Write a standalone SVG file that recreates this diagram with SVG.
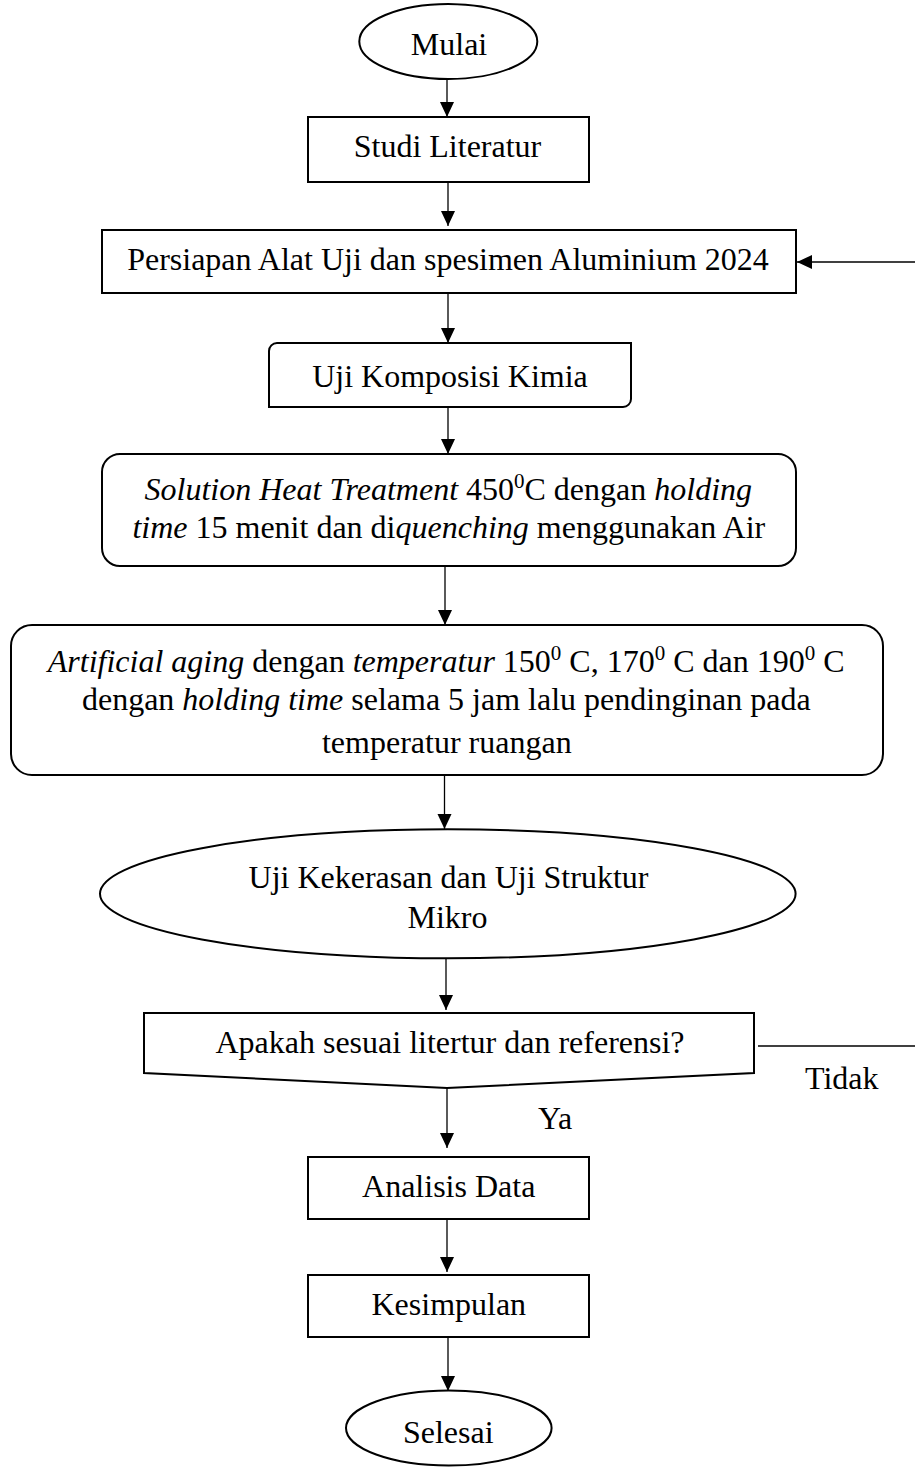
<svg xmlns="http://www.w3.org/2000/svg" width="915" height="1470" viewBox="0 0 915 1470">
<style>
  .shape { fill: #ffffff; stroke: #000000; stroke-width: 2; }
  .conn { fill: none; stroke: #000000; stroke-width: 1.3; }
  text { font-family: "Liberation Serif", "Times New Roman", serif; font-size: 32px; fill: #000000; }
  .c { text-anchor: middle; }
  .i { font-style: italic; }
  .sup { font-size: 21px; }
</style>
<defs>
  <marker id="arrow" markerUnits="userSpaceOnUse" markerWidth="16" markerHeight="15" refX="15" refY="7" orient="auto">
    <path d="M0,0 L15,7 L0,14 Z" fill="#000000"/>
  </marker>
</defs>
<rect width="915" height="1470" fill="#ffffff"/>

<g id="connectors">
  <line class="conn" x1="447" y1="79" x2="447" y2="117" marker-end="url(#arrow)"/>
  <line class="conn" x1="448" y1="182" x2="448" y2="226" marker-end="url(#arrow)"/>
  <line class="conn" x1="448" y1="293" x2="448" y2="343" marker-end="url(#arrow)"/>
  <line class="conn" x1="448" y1="407" x2="448" y2="454" marker-end="url(#arrow)"/>
  <line class="conn" x1="445" y1="566" x2="445" y2="625" marker-end="url(#arrow)"/>
  <line class="conn" x1="444.5" y1="758" x2="444.5" y2="829" marker-end="url(#arrow)"/>
  <line class="conn" x1="446" y1="958" x2="446" y2="1010" marker-end="url(#arrow)"/>
  <line class="conn" x1="447" y1="1088" x2="447" y2="1148" marker-end="url(#arrow)"/>
  <line class="conn" x1="447" y1="1219" x2="447" y2="1272" marker-end="url(#arrow)"/>
  <line class="conn" x1="448" y1="1337" x2="448" y2="1391" marker-end="url(#arrow)"/>
  <line class="conn" x1="758" y1="1046" x2="915" y2="1046"/>
  <line class="conn" x1="915" y1="262" x2="797" y2="262" marker-end="url(#arrow)"/>
  <text x="805" y="1089">Tidak</text>
  <text x="538" y="1129">Ya</text>
</g>

<g id="mulai">
  <ellipse class="shape" cx="448.3" cy="41.5" rx="89" ry="37.5"/>
  <text class="c" x="449" y="55">Mulai</text>
</g>

<g id="studi-literatur">
  <rect class="shape" x="308" y="117" width="281" height="65"/>
  <text class="c" x="447.5" y="157">Studi Literatur</text>
</g>

<g id="persiapan">
  <rect class="shape" x="102" y="230" width="694" height="63"/>
  <text class="c" x="448" y="270">Persiapan Alat Uji dan spesimen Aluminium 2024</text>
</g>

<g id="uji-komposisi">
  <path class="shape" d="M269,351 A8,8 0 0 1 277,343 H631 V399 A8,8 0 0 1 623,407 H269 Z"/>
  <text class="c" x="450" y="387">Uji Komposisi Kimia</text>
</g>

<g id="solution-heat-treatment">
  <rect class="shape" x="102" y="454" width="694" height="112" rx="18" ry="18"/>
  <text class="c" x="448.3" y="500"><tspan class="i">Solution Heat Treatment</tspan> 450<tspan class="sup" dy="-12">0</tspan><tspan dy="12">C dengan </tspan><tspan class="i">holding</tspan></text>
  <text class="c" x="448.8" y="538"><tspan class="i">time</tspan> 15 menit dan di<tspan class="i">quenching</tspan> menggunakan Air</text>
</g>

<g id="artificial-aging">
  <rect class="shape" x="11" y="625" width="872" height="150" rx="21" ry="21"/>
  <text class="c" x="446.2" y="672"><tspan class="i">Artificial aging</tspan> dengan <tspan class="i">temperatur</tspan> 150<tspan class="sup" dy="-12">0</tspan><tspan dy="12"> C, 170</tspan><tspan class="sup" dy="-12">0</tspan><tspan dy="12"> C dan 190</tspan><tspan class="sup" dy="-12">0</tspan><tspan dy="12"> C</tspan></text>
  <text class="c" x="446.3" y="710">dengan <tspan class="i">holding time</tspan> selama 5 jam lalu pendinginan pada</text>
  <text class="c" x="446.8" y="753">temperatur ruangan</text>
</g>

<g id="uji-kekerasan">
  <ellipse class="shape" cx="447.8" cy="893.8" rx="347.8" ry="64.5"/>
  <text class="c" x="448.5" y="888">Uji Kekerasan dan Uji Struktur</text>
  <text class="c" x="447.5" y="928">Mikro</text>
</g>

<g id="keputusan">
  <polygon class="shape" points="144,1013 754,1013 754,1073 447,1088 144,1073"/>
  <text class="c" x="450" y="1053">Apakah sesuai litertur dan referensi?</text>
</g>

<g id="analisis-data">
  <rect class="shape" x="308" y="1157" width="281" height="62"/>
  <text class="c" x="448.7" y="1197">Analisis Data</text>
</g>

<g id="kesimpulan">
  <rect class="shape" x="308" y="1275" width="281" height="62"/>
  <text class="c" x="448.8" y="1315">Kesimpulan</text>
</g>

<g id="selesai">
  <ellipse class="shape" cx="448.8" cy="1428" rx="102.8" ry="37.5"/>
  <text class="c" x="448.3" y="1443">Selesai</text>
</g>
</svg>
